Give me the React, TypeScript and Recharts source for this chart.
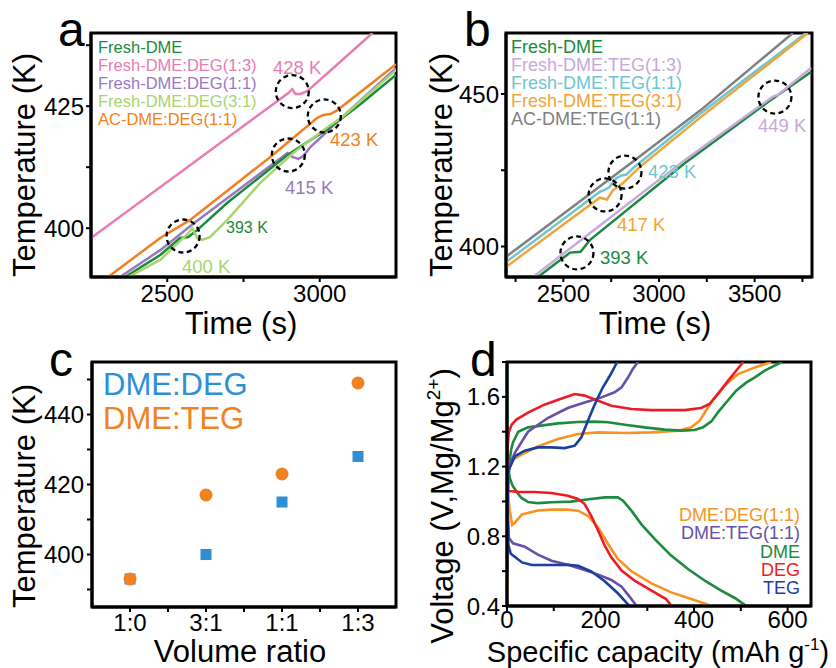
import { LineChart, Line, ScatterChart, Scatter, XAxis, YAxis, ReferenceArea, ReferenceDot } from 'recharts'

const FONT = '"Liberation Sans", Arial, Helvetica, sans-serif'

// panel a: temperature ramps, DME:DEG mixtures  [time s, temperature K]
const aFreshDme = [[2362, 390], [2477, 394.5], [2542, 398], [2569, 398.2], [2598, 399.6], [2697, 405.2], [2894, 415], [3025, 420.3], [3133, 425.4], [3250, 431.4]]
const aDeg13 = [[2250, 398], [2897, 427.7], [2910, 428.5], [2920, 427.5], [2936, 427.5], [2959, 428.1], [3173, 440]]
const aDeg11 = [[2345, 390], [2477, 395.5], [2585, 400.9], [2894, 415.4], [2910, 414.6], [2930, 414.2], [2946, 414.8], [2969, 416.6], [3012, 419.1], [3074, 422.8], [3250, 432.8]]
const aDeg31 = [[2372, 390], [2477, 393.5], [2569, 399], [2582, 400], [2598, 398], [2615, 397.6], [2641, 398.2], [2697, 401.7], [2805, 409.3], [2913, 415.4], [3025, 420.7], [3074, 422.8], [3250, 432.4]]
const aAcDeg11 = [[2306, 390], [2477, 398], [2575, 401.7], [2838, 414.6], [2992, 422.6], [3012, 423.2], [3035, 423.4], [3058, 424.2], [3250, 433.6]]
const aMarks = [[2910, 428], [3015, 423], [2897, 415], [2552, 398.4]]

// panel b: DME:TEG mixtures
const bFreshDme = [[2367, 390], [2535, 398], [2590, 398.3], [2640, 402.2], [3136, 427.4], [3570, 447.4], [3795, 457.2]]
const bTeg13 = [[2341, 390], [2613, 403.1], [3136, 428.4], [3586, 448.7], [3600, 449.3], [3620, 449.6], [3795, 458.5]]
const bTeg11 = [[2200, 394.9], [2690, 417.9], [2715, 418.6], [2740, 419.4], [2775, 422.3], [2800, 423.2], [2830, 423.6], [2870, 426], [3220, 443.8], [3768, 470]]
const bTeg31 = [[2200, 393.3], [2690, 416], [2728, 415.4], [2760, 418.5], [2812, 420.8], [2900, 426.1], [3220, 442.5], [3779, 470]]
const bAcTeg11 = [[2200, 396.6], [2854, 427.4], [3220, 444.8], [3700, 470]]
const bMarks = [[2571, 397.9], [2718, 416.9], [2822, 424.4], [3606, 449]]

// panel c: onset temperature vs volume ratio
const ratios = ['1:0', '3:1', '1:1', '1:3']
const degOnset = [393, 400, 415, 428]
const tegOnset = [393, 417, 423, 449]

// panel d: voltage profiles [capacity mAh/g, V]
const dDmeDis = [[0, 1.8], [0.7, 1.39], [2, 1.21], [6, 1.134], [12, 1.09], [22, 1.05], [31, 1.02], [45, 0.997], [66, 0.99], [95, 0.995], [137, 0.999], [166, 1.01], [209, 1.023], [237, 1.023], [248, 1.004], [266, 0.947], [287, 0.87], [316, 0.784], [351, 0.689], [387, 0.612], [423, 0.545], [458, 0.488], [487, 0.446], [512, 0.4]]
const dDmeCh = [[0, 1.0], [1, 1.1], [4, 1.2], [9, 1.3], [13, 1.34], [24, 1.4], [45, 1.425], [73, 1.435], [109, 1.448], [152, 1.456], [188, 1.458], [216, 1.454], [252, 1.44], [294, 1.425], [337, 1.412], [373, 1.406], [401, 1.41], [419, 1.425], [437, 1.459], [451, 1.511], [469, 1.569], [490, 1.635], [512, 1.683], [530, 1.712], [551, 1.75], [572, 1.779], [588, 1.8]]
const dDegDis = [[0, 1.38], [1, 1.2], [2, 1.06], [10, 1.058], [24, 1.055], [59, 1.054], [95, 1.048], [130, 1.033], [152, 1.014], [166, 0.985], [180, 0.918], [195, 0.832], [209, 0.746], [223, 0.679], [245, 0.603], [273, 0.545], [309, 0.488], [340, 0.44], [352, 0.4]]
const dDegCh = [[0, 1.05], [1, 1.3], [4, 1.4], [10, 1.44], [20, 1.47], [45, 1.51], [80, 1.555], [117, 1.59], [145, 1.616], [166, 1.607], [195, 1.578], [223, 1.549], [266, 1.53], [309, 1.524], [380, 1.524], [415, 1.536], [433, 1.559], [451, 1.616], [473, 1.693], [490, 1.75], [505, 1.8]]
const dDegMixDis = [[0, 1.2], [2, 1.04], [6, 0.95], [11, 0.865], [16, 0.875], [32, 0.925], [66, 0.948], [95, 0.953], [130, 0.953], [152, 0.947], [173, 0.918], [195, 0.851], [216, 0.756], [237, 0.67], [266, 0.599], [309, 0.53], [351, 0.478], [394, 0.44], [430, 0.408], [434, 0.4]]
const dDegMixCh = [[0, 0.47], [1, 0.9], [3, 1.17], [6, 1.21], [12, 1.24], [32, 1.27], [66, 1.315], [109, 1.358], [152, 1.387], [195, 1.396], [252, 1.393], [309, 1.396], [366, 1.406], [394, 1.425], [412, 1.463], [430, 1.54], [444, 1.597], [465, 1.664], [494, 1.731], [530, 1.769], [565, 1.8]]
const dTegMixDis = [[0, 1.2], [2, 0.9], [4, 0.79], [13, 0.76], [38, 0.74], [66, 0.695], [95, 0.66], [130, 0.637], [166, 0.607], [195, 0.58], [223, 0.549], [245, 0.511], [262, 0.454], [277, 0.4]]
const dTegMixCh = [[0, 0.54], [1, 0.9], [3, 1.15], [6, 1.21], [17, 1.28], [45, 1.4], [88, 1.48], [130, 1.536], [166, 1.568], [202, 1.597], [230, 1.626], [245, 1.655], [259, 1.712], [269, 1.76], [280, 1.8]]
const dTegDis = [[0, 1.36], [1, 1.0], [3, 0.75], [8, 0.7], [13, 0.69], [32, 0.65], [53, 0.635], [95, 0.635], [130, 0.637], [152, 0.631], [180, 0.599], [209, 0.542], [237, 0.473], [259, 0.408], [263, 0.4]]
const dTegCh = [[0, 0.6], [1, 0.9], [2, 1.17], [17, 1.26], [38, 1.291], [66, 1.31], [95, 1.31], [123, 1.306], [145, 1.32], [159, 1.368], [173, 1.463], [188, 1.559], [205, 1.655], [220, 1.721], [234, 1.792], [236, 1.8]]

const GREEN = '#1b8a3e'
const PINK = '#e97bb5'
const PURPLE = '#9a78c0'
const LIME = '#a8d46f'
const ORANGE = '#f47f20'
const LAVENDER = '#c7a9db'
const CYAN = '#6ec6d0'
const AMBER = '#f0a43a'
const GRAY = '#808080'
const BLUE_C = '#2e8fd3'
const ORANGE_C = '#f08222'
const D_ORANGE = '#f7931e'
const D_PURPLE = '#6650a8'
const D_GREEN = '#1d8a3d'
const D_RED = '#ed1c24'
const D_BLUE = '#1d3f9e'

const pts = (arr: number[][]) => arr.map(([x, y]) => ({ x, y }))

const tickFont = { fontSize: 24, fill: '#000', fontFamily: FONT }
const tickLine = { stroke: '#000', strokeWidth: 2 }
const axisLine = { stroke: '#000', strokeWidth: 3 }
const frame = { fill: 'none', stroke: '#000', strokeWidth: 3, fillOpacity: 0 }
const ring = { r: 16.5, fill: 'none', stroke: '#000', strokeWidth: 2.3, strokeDasharray: '5 3.5' }

function series(data: number[][], color: string, key: string, w = 2.5) {
  return (
    <Line key={key} data={pts(data)} dataKey="y" stroke={color} strokeWidth={w}
      dot={false} isAnimationActive={false} />
  )
}

function Overlay() {
  const t = { fontFamily: FONT, fill: '#000' }
  return (
    <svg width={836} height={668} style={{ position: 'absolute', left: 0, top: 0, pointerEvents: 'none' }}>
      {/* panel letters */}
      <text {...t} x={58} y={46} fontSize={48}>a</text>
      <text {...t} x={464} y={46} fontSize={48}>b</text>
      <text {...t} x={49} y={376} fontSize={48}>c</text>
      <text {...t} x={470} y={376} fontSize={48}>d</text>

      {/* axis titles */}
      <text {...t} fontSize={31} textAnchor="middle" transform="translate(35,165) rotate(-90)">Temperature (K)</text>
      <text {...t} fontSize={31} textAnchor="middle" transform="translate(452,165) rotate(-90)">Temperature (K)</text>
      <text {...t} fontSize={31} textAnchor="middle" transform="translate(35,496) rotate(-90)">Temperature (K)</text>
      <text {...t} fontSize={31} textAnchor="middle" transform="translate(453,506) rotate(-90)">
        Voltage (V,Mg/Mg<tspan fontSize={19} dy={-13}>2+</tspan><tspan dy={13}>)</tspan>
      </text>
      <text {...t} fontSize={31} textAnchor="middle" x={241} y={334}>Time (s)</text>
      <text {...t} fontSize={31} textAnchor="middle" x={655} y={334}>Time (s)</text>
      <text {...t} fontSize={31} textAnchor="middle" x={240} y={662}>Volume ratio</text>
      <text {...t} fontSize={29} textAnchor="middle" x={658} y={662}>
        Specific capacity (mAh g<tspan fontSize={17} dy={-12}>-1</tspan><tspan dy={12}>)</tspan>
      </text>

      {/* panel a legend + notes */}
      <g fontFamily={FONT} fontSize={16.5}>
        <text x={98} y={53} fill={GREEN}>Fresh-DME</text>
        <text x={98} y={71} fill={PINK}>Fresh-DME:DEG(1:3)</text>
        <text x={98} y={89} fill={PURPLE}>Fresh-DME:DEG(1:1)</text>
        <text x={98} y={107} fill={LIME}>Fresh-DME:DEG(3:1)</text>
        <text x={98} y={125} fill={ORANGE}>AC-DME:DEG(1:1)</text>
      </g>
      <g fontFamily={FONT} fontSize={18.5}>
        <text x={273} y={74} fill={PINK}>428 K</text>
        <text x={330} y={146} fill={ORANGE}>423 K</text>
        <text x={285} y={194} fill={PURPLE}>415 K</text>
        <text x={226} y={233} fill={GREEN} fontSize={16}>393 K</text>
        <text x={182} y={273} fill={LIME}>400 K</text>
      </g>

      {/* panel b legend + notes */}
      <g fontFamily={FONT} fontSize={18}>
        <text x={511} y={53} fill={GREEN}>Fresh-DME</text>
        <text x={511} y={71} fill={LAVENDER}>Fresh-DME:TEG(1:3)</text>
        <text x={511} y={89} fill={CYAN}>Fresh-DME:TEG(1:1)</text>
        <text x={511} y={107} fill={AMBER}>Fresh-DME:TEG(3:1)</text>
        <text x={511} y={125} fill={GRAY}>AC-DME:TEG(1:1)</text>
      </g>
      <g fontFamily={FONT} fontSize={18.5}>
        <text x={758} y={132} fill={LAVENDER}>449 K</text>
        <text x={648} y={178} fill={CYAN}>423 K</text>
        <text x={617} y={231} fill={AMBER}>417 K</text>
        <text x={600} y={264} fill={GREEN}>393 K</text>
      </g>

      {/* panel c legend */}
      <g fontFamily={FONT} fontSize={31}>
        <text x={103} y={395} fill={BLUE_C}>DME:DEG</text>
        <text x={103} y={429} fill={ORANGE_C}>DME:TEG</text>
      </g>

      {/* panel d legend */}
      <g fontFamily={FONT} fontSize={18} textAnchor="end">
        <text x={800} y={521} fill={D_ORANGE}>DME:DEG(1:1)</text>
        <text x={800} y={539} fill={D_PURPLE}>DME:TEG(1:1)</text>
        <text x={800} y={558} fill={D_GREEN}>DME</text>
        <text x={800} y={576} fill={D_RED}>DEG</text>
        <text x={800} y={594} fill={D_BLUE}>TEG</text>
      </g>
    </svg>
  )
}

export default function App() {
  const degPts = ratios.map((_, i) => ({ x: i, y: degOnset[i] }))
  const tegPts = ratios.map((_, i) => ({ x: i, y: tegOnset[i] }))

  return (
    <div style={{ position: 'absolute', left: 0, top: 0, width: 836, height: 668, background: '#fff', fontFamily: FONT }}>
      {/* a */}
      <div style={{ position: 'absolute', left: 0, top: 0 }}>
        <LineChart width={418} height={334} margin={{ top: 33, right: 22, bottom: 0, left: 0 }}>
          <XAxis type="number" dataKey="x" domain={[2250, 3250]} allowDataOverflow height={57}
            ticks={[2500, 2750, 3000]} interval={0} tickFormatter={v => (v % 500 === 0 ? String(v) : '')}
            tick={tickFont} tickLine={tickLine} axisLine={axisLine} tickSize={5} tickMargin={3} />
          <YAxis type="number" domain={[390, 440]} allowDataOverflow width={91}
            ticks={[400, 412.5, 425, 437.5]} interval={0} tickFormatter={v => (v % 25 === 0 ? String(v) : '')}
            tick={tickFont} tickLine={tickLine} axisLine={axisLine} tickSize={5} tickMargin={2} />
          {series(aDeg13, PINK, 'a1')}
          {series(aAcDeg11, ORANGE, 'a2')}
          {series(aDeg11, PURPLE, 'a3')}
          {series(aFreshDme, GREEN, 'a4')}
          {series(aDeg31, LIME, 'a5')}
          {aMarks.map(([x, y], i) => <ReferenceDot key={i} x={x} y={y} {...ring} />)}
          <ReferenceArea x1={2250} x2={3250} y1={390} y2={440} {...frame} />
        </LineChart>
      </div>

      {/* b */}
      <div style={{ position: 'absolute', left: 418, top: 0 }}>
        <LineChart width={418} height={334} margin={{ top: 33, right: 24, bottom: 0, left: 0 }}>
          <XAxis type="number" dataKey="x" domain={[2200, 3800]} allowDataOverflow height={57}
            ticks={[2250, 2500, 2750, 3000, 3250, 3500, 3750]} interval={0}
            tickFormatter={v => (v % 500 === 0 ? String(v) : '')}
            tick={tickFont} tickLine={tickLine} axisLine={axisLine} tickSize={5} tickMargin={3} />
          <YAxis type="number" domain={[390, 470]} allowDataOverflow width={88}
            ticks={[400, 425, 450]} interval={0} tickFormatter={v => (v % 50 === 0 ? String(v) : '')}
            tick={tickFont} tickLine={tickLine} axisLine={axisLine} tickSize={5} tickMargin={2} />
          {series(bAcTeg11, GRAY, 'b1')}
          {series(bTeg11, CYAN, 'b2')}
          {series(bTeg31, AMBER, 'b3')}
          {series(bFreshDme, GREEN, 'b4')}
          {series(bTeg13, LAVENDER, 'b5')}
          {bMarks.map(([x, y], i) => <ReferenceDot key={i} x={x} y={y} {...ring} />)}
          <ReferenceArea x1={2200} x2={3800} y1={390} y2={470} {...frame} />
        </LineChart>
      </div>

      {/* c */}
      <div style={{ position: 'absolute', left: 0, top: 334 }}>
        <ScatterChart width={418} height={334} margin={{ top: 28, right: 22, bottom: 0, left: 0 }}>
          <XAxis type="number" dataKey="x" domain={[-0.5, 3.5]} height={61}
            ticks={[0, 0.5, 1, 1.5, 2, 2.5, 3]} interval={0}
            tickFormatter={v => (Number.isInteger(v) ? ratios[v] : '')}
            tick={tickFont} tickLine={tickLine} axisLine={axisLine} tickSize={5} tickMargin={2} />
          <YAxis type="number" dataKey="y" domain={[385, 455]} width={92}
            ticks={[390, 400, 410, 420, 430, 440, 450]} interval={0}
            tickFormatter={v => (v % 20 === 0 ? String(v) : '')}
            tick={tickFont} tickLine={tickLine} axisLine={axisLine} tickSize={5} tickMargin={3} />
          <Scatter data={degPts} fill={BLUE_C} isAnimationActive={false}
            shape={(p: any) => <rect x={p.cx - 5.5} y={p.cy - 5.5} width={11} height={11} fill={BLUE_C} />} />
          <Scatter data={tegPts} fill={ORANGE_C} isAnimationActive={false}
            shape={(p: any) => <circle cx={p.cx} cy={p.cy} r={6.5} fill={ORANGE_C} />} />
          <ReferenceArea x1={-0.5} x2={3.5} y1={385} y2={455} {...frame} />
        </ScatterChart>
      </div>

      {/* d */}
      <div style={{ position: 'absolute', left: 418, top: 334 }}>
        <LineChart width={418} height={334} margin={{ top: 28, right: 25, bottom: 0, left: 0 }}>
          <XAxis type="number" dataKey="x" domain={[0, 650]} allowDataOverflow height={62}
            ticks={[0, 100, 200, 300, 400, 500, 600]} interval={0}
            tickFormatter={v => (v % 200 === 0 ? String(v) : '')}
            tick={tickFont} tickLine={tickLine} axisLine={axisLine} tickSize={5} tickMargin={0} />
          <YAxis type="number" domain={[0.4, 1.8]} allowDataOverflow width={89}
            ticks={[0.4, 0.6, 0.8, 1.0, 1.2, 1.4, 1.6, 1.8]} interval={0}
            tickFormatter={v => ([0.4, 0.8, 1.2, 1.6].includes(v) ? v.toFixed(1) : '')}
            tick={tickFont} tickLine={tickLine} axisLine={axisLine} tickSize={5} tickMargin={2} />
          <ReferenceArea x1={0} x2={650} y1={0.4} y2={1.8} {...frame} />
          {series(dDegMixDis, D_ORANGE, 'd1', 2.6)}
          {series(dDegMixCh, D_ORANGE, 'd2', 2.6)}
          {series(dDmeDis, D_GREEN, 'd3', 2.6)}
          {series(dDmeCh, D_GREEN, 'd4', 2.6)}
          {series(dTegMixDis, D_PURPLE, 'd5', 2.6)}
          {series(dTegMixCh, D_PURPLE, 'd6', 2.6)}
          {series(dDegDis, D_RED, 'd7', 2.6)}
          {series(dDegCh, D_RED, 'd8', 2.6)}
          {series(dTegDis, D_BLUE, 'd9', 2.6)}
          {series(dTegCh, D_BLUE, 'd10', 2.6)}
        </LineChart>
      </div>

      <Overlay />
    </div>
  )
}
